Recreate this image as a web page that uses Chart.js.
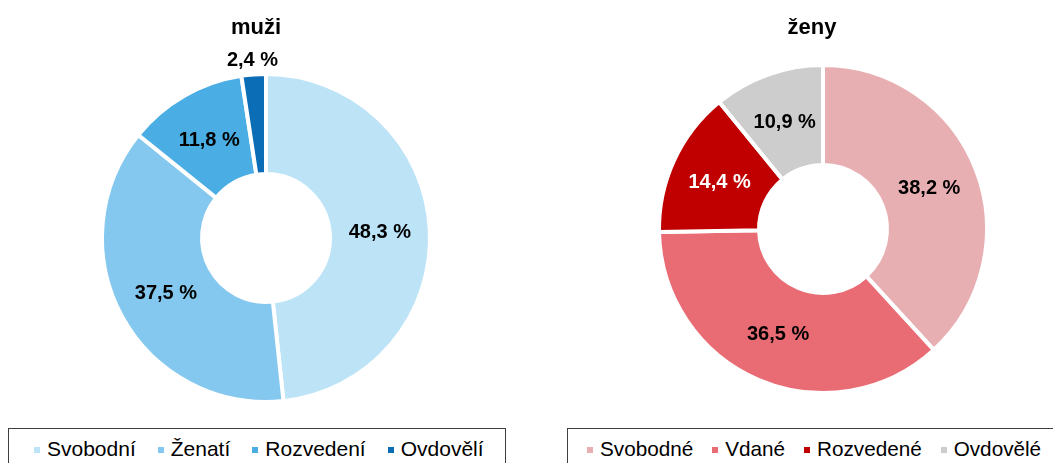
<!DOCTYPE html>
<html>
<head>
<meta charset="utf-8">
<script src="https://cdn.jsdelivr.net/npm/chart.js@4/dist/chart.umd.min.js"></script>
<style>
  body { margin: 0; background: #fff; width: 1053px; height: 463px; overflow: hidden; position: relative;
         font-family: "Liberation Sans", Arial, sans-serif; }
  canvas { position: absolute; top: 0; }
  .title { position: absolute; top: 14px; width: 200px; text-align: center; font-weight: bold;
           font-size: 22px; line-height: 26px; color: #000; }
  .legend { position: absolute; top: 428px; height: 60px; border: 1px solid #3f3f3f; box-sizing: border-box;
            display: flex; align-items: flex-start; padding-top: 8px; font-size: 21px; color: #000; }
  .legend .item { display: flex; align-items: center; margin-right: 22px; white-space: nowrap; line-height: 24px; }
  .legend .mark { width: 6px; height: 6px; margin-right: 7px; margin-top: 2px; }
  #zenyLegend { font-size: 20.7px; }
  #zenyLegend .item { margin-right: 19px; }
</style>
</head>
<body>
<canvas id="muziChart" width="530" height="420" style="left:0"></canvas>
<canvas id="zenyChart" width="523" height="420" style="left:530px"></canvas>
<div class="title" style="left:156px">muži</div>
<div class="title" style="left:712px">ženy</div>
<div class="legend" id="muziLegend" style="left:8px; width:498px; padding-left:25px"></div>
<div class="legend" id="zenyLegend" style="left:567px; width:520px; padding-left:19px"></div>
<script>
const muziLabels = ['Svobodní', 'Ženatí', 'Rozvedení', 'Ovdovělí'];
const muziValues = [48.3, 37.5, 11.8, 2.4];
const muziColors = ['#bde3f7', '#85c8ef', '#4aade4', '#0b6db6'];

const zenyLabels = ['Svobodné', 'Vdané', 'Rozvedené', 'Ovdovělé'];
const zenyValues = [38.2, 36.5, 14.4, 10.9];
const zenyColors = ['#e8afb3', '#e96c75', '#c00000', '#cdcdcd'];
const zenyLabelColors = ['#000', '#000', '#fff', '#000'];

function fmt(v) {
    return v.toFixed(1).replace('.', ',') + ' %';
}

// draws the percentage in the middle of each ring segment (small ones outside)
const sliceLabels = {
    id: 'sliceLabels',
    afterDatasetsDraw(chart) {
        const ctx = chart.ctx;
        const ds = chart.data.datasets[0];
        const meta = chart.getDatasetMeta(0);
        ctx.save();
        ctx.font = 'bold 20px "Liberation Sans", Arial, sans-serif';
        ctx.textAlign = 'center';
        ctx.textBaseline = 'middle';
        meta.data.forEach(function(arc, i) {
            const p = arc.getProps(['x', 'y', 'startAngle', 'endAngle', 'innerRadius', 'outerRadius'], true);
            const mid = (p.startAngle + p.endAngle) / 2;
            const v = ds.data[i];
            let r = (p.innerRadius + p.outerRadius) / 2;
            if (v < 5) r = p.outerRadius + 15;
            ctx.fillStyle = (ds.labelColors && ds.labelColors[i]) || '#000';
            ctx.fillText(fmt(v), p.x + Math.cos(mid) * r, p.y + Math.sin(mid) * r + 1);
        });
        ctx.restore();
    }
};

function makeDonut(id, labels, values, colors, labelColors, padding) {
    return new Chart(document.getElementById(id), {
        type: 'doughnut',
        data: {
            labels: labels,
            datasets: [{
                data: values,
                backgroundColor: colors,
                borderColor: '#ffffff',
                borderWidth: 4,
                hoverBorderWidth: 4,
                labelColors: labelColors
            }]
        },
        options: {
            responsive: false,
            animation: false,
            cutout: '39%',
            layout: { padding: padding },
            plugins: {
                legend: { display: false },
                tooltip: { enabled: false }
            }
        },
        plugins: [sliceLabels]
    });
}

makeDonut('muziChart', muziLabels, muziValues, muziColors, null,
    { left: 100, right: 98, top: 72, bottom: 16 });
makeDonut('zenyChart', zenyLabels, zenyValues, zenyColors, zenyLabelColors,
    { left: 127, right: 64, top: 63, bottom: 25 });

function buildLegend(id, labels, colors) {
    const box = document.getElementById(id);
    labels.forEach(function(name, i) {
        const item = document.createElement('div');
        item.className = 'item';
        const mark = document.createElement('span');
        mark.className = 'mark';
        mark.style.background = colors[i];
        const txt = document.createElement('span');
        txt.textContent = name;
        item.appendChild(mark);
        item.appendChild(txt);
        box.appendChild(item);
    });
}
buildLegend('muziLegend', muziLabels, muziColors);
buildLegend('zenyLegend', zenyLabels, zenyColors);
</script>
</body>
</html>
